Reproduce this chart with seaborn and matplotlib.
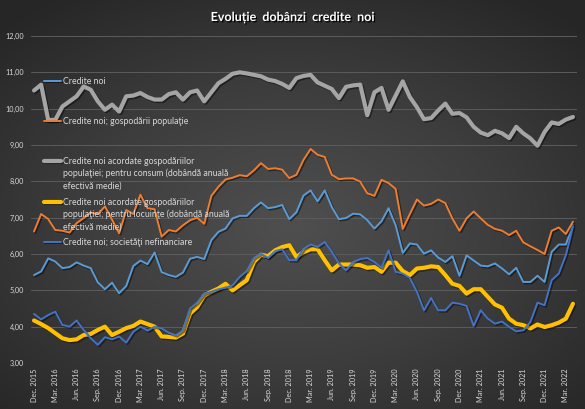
import numpy as np
import pandas as pd
import seaborn as sns
import matplotlib
matplotlib.use("Agg")
import matplotlib.pyplot as plt
import matplotlib.patheffects as pe
from matplotlib.colors import LinearSegmentedColormap

# ---- data (monthly, Dec. 2015 - Apr. 2022) ----
months = pd.date_range("2015-12-01", periods=77, freq="MS")

credite_noi = [
    5.42, 5.52, 5.88, 5.79, 5.61, 5.64, 5.77, 5.68, 5.61, 5.22, 5.03, 5.21, 4.92, 5.12, 5.67, 5.82, 5.72, 6.04,
    5.50, 5.42, 5.37, 5.49, 5.87, 5.92, 5.86, 6.38, 6.61, 6.70, 6.98, 7.05, 7.05, 7.26, 7.42, 7.26, 7.29, 7.35, 6.96,
    7.15, 7.61, 7.75, 7.45, 7.75, 7.29, 6.96, 6.99, 7.11, 7.09, 6.93, 6.70, 6.90, 7.26, 6.79, 6.03, 6.29, 6.26, 6.01, 6.10, 5.90,
    5.78, 5.94, 5.40, 5.96, 5.82, 5.68, 5.66, 5.74, 5.60, 5.44, 5.62, 5.23, 5.23, 5.40, 5.23, 6.06, 6.26, 6.26, 6.81,
]
gospodarii = [
    6.62, 7.10, 6.96, 6.66, 6.64, 6.59, 6.85, 6.99, 7.14, 7.10, 7.31, 6.95, 6.57, 7.21, 7.10, 7.63, 7.26, 7.23,
    6.48, 6.66, 6.62, 6.79, 6.93, 7.00, 6.83, 7.60, 7.85, 8.05, 8.10, 8.17, 8.14, 8.30, 8.50, 8.34, 8.36, 8.32, 8.09,
    8.18, 8.59, 8.89, 8.73, 8.67, 8.18, 8.06, 8.08, 8.08, 7.99, 7.67, 7.60, 8.04, 7.95, 7.79, 6.69, 7.10, 7.50, 7.33, 7.38, 7.50,
    7.40, 6.98, 6.64, 6.98, 7.17, 6.98, 6.80, 6.69, 6.64, 6.52, 6.64, 6.32, 6.21, 6.11, 6.00, 6.64, 6.73, 6.55, 6.89,
]
consum = [
    10.50, 10.66, 9.69, 9.69, 10.06, 10.20, 10.34, 10.61, 10.52, 10.20, 9.97, 10.11, 9.92, 10.34, 10.36, 10.43, 10.32, 10.25,
    10.25, 10.40, 10.45, 10.25, 10.45, 10.50, 10.20, 10.45, 10.70, 10.82, 10.96, 11.00, 10.97, 10.93, 10.89, 10.80, 10.76, 10.68, 10.57,
    10.84, 10.90, 10.93, 10.72, 10.63, 10.54, 10.29, 10.60, 10.64, 10.66, 9.82, 10.45, 10.57, 9.97, 10.36, 10.75, 10.32, 10.04, 9.71, 9.74, 9.95,
    10.14, 9.86, 9.88, 9.76, 9.50, 9.34, 9.27, 9.39, 9.32, 9.19, 9.50, 9.32, 9.18, 8.98, 9.36, 9.62, 9.58, 9.70, 9.77,
]
locuinte = [
    4.17, 4.07, 3.96, 3.82, 3.68, 3.63, 3.65, 3.77, 3.80, 3.91, 4.00, 3.77, 3.86, 3.96, 4.02, 4.14, 4.07, 4.00,
    3.73, 3.72, 3.70, 3.81, 4.36, 4.54, 4.86, 4.96, 5.05, 5.18, 5.00, 5.14, 5.28, 5.78, 5.98, 5.94, 6.10, 6.19, 6.24,
    5.92, 6.05, 6.13, 6.13, 5.83, 5.55, 5.71, 5.71, 5.71, 5.69, 5.62, 5.64, 5.51, 5.76, 5.76, 5.53, 5.42, 5.60, 5.62, 5.66, 5.64,
    5.42, 5.18, 5.12, 4.91, 5.03, 5.03, 4.82, 4.61, 4.52, 4.22, 4.08, 4.04, 3.95, 4.06, 3.99, 4.04, 4.11, 4.22, 4.63,
]
nefinanciare = [
    4.35, 4.20, 4.32, 4.41, 4.05, 4.00, 4.17, 3.91, 3.68, 3.50, 3.71, 3.65, 3.73, 3.56, 3.86, 4.00, 3.89, 4.00,
    3.95, 3.83, 3.76, 3.90, 4.50, 4.66, 4.91, 4.96, 5.03, 5.07, 5.14, 5.37, 5.53, 5.89, 6.01, 5.89, 6.08, 6.13, 5.83,
    5.83, 6.14, 6.26, 6.20, 6.33, 6.06, 5.74, 5.55, 5.78, 5.86, 5.89, 5.78, 5.62, 6.10, 5.51, 5.46, 5.34, 4.96, 4.45, 4.79, 4.45,
    4.45, 4.66, 4.63, 4.57, 4.02, 4.45, 4.22, 4.08, 4.14, 3.99, 3.87, 3.90, 4.13, 4.66, 4.59, 5.28, 5.46, 5.97, 6.75,
]

tick_labels = [
    "Dec. 2015", "Mar. 2016", "Jun. 2016", "Sep. 2016", "Dec. 2016", "Mar. 2017", "Jun. 2017",
    "Sep. 2017", "Dec. 2017", "Mar. 2018", "Jun. 2018", "Sep. 2018", "Dec. 2018", "Mar. 2019",
    "Jun. 2019", "Sep. 2019", "Dec. 2019", "Mar. 2020", "Jun. 2020", "Sep. 2020", "Dec. 2020",
    "Mar. 2021", "Jun. 2021", "Sep. 2021", "Dec. 2021", "Mar. 2022",
]

series_names = [
    "Credite noi",
    "Credite noi; gospodării populaţie",
    "Credite noi acordate gospodăriilor\npopulaţiei; pentru consum (dobândă anuală\nefectivă medie)",
    "Credite noi acordate gospodăriilor\npopulaţiei; pentru locuinţe (dobândă anuală\nefectivă medie)",
    "Credite noi; societăţi nefinanciare",
]
series_values = [credite_noi, gospodarii, consum, locuinte, nefinanciare]
series_colors = ["#5B9BD5", "#ED7D31", "#A5A5A5", "#FFC000", "#4472C4"]
series_widths = [1.4, 1.4, 3.0, 3.0, 1.4]

sns.set_style("dark")
plt.rcParams["font.family"] = ["Lato", "DejaVu Sans"]

W, H = 585, 409
fig = plt.figure(figsize=(W / 100, H / 100), dpi=100)

# radial dark gradient background
bg = fig.add_axes([0, 0, 1, 1])
yy, xx = np.mgrid[0:1:H * 1j, 0:1:W * 1j]
r = np.sqrt(((xx - 0.5) / 0.85) ** 2 + ((yy - 0.55) / 0.8) ** 2)
cmap = LinearSegmentedColormap.from_list("bg", ["#4f4f4f", "#3d3d3d", "#262626"])
bg.imshow(r, cmap=cmap, vmin=0, vmax=0.85, extent=[0, 1, 0, 1], aspect="auto")
bg.axis("off")

# plot area in pixels
left, right, top, bottom = 30.5, 576.5, 36, 363
ax = fig.add_axes([left / W, 1 - bottom / H, (right - left) / W, (bottom - top) / H])
ax.set_facecolor("none")

x = np.arange(len(months))
shadow = [pe.SimpleLineShadow(offset=(1, -1), shadow_color="black", alpha=0.45), pe.Normal()]
for vals, col, lw in zip(series_values, series_colors, series_widths):
    sns.lineplot(x=x, y=vals, ax=ax, color=col, linewidth=lw, legend=False,
                 path_effects=shadow, solid_joinstyle="round")

ax.set_xlim(-0.5, len(months) - 0.5)
ax.set_ylim(3, 12)
ax.set_yticks(np.arange(3, 13))
ax.set_yticklabels([f"{v:.2f}".replace(".", ",") for v in np.arange(3, 13)])
ax.set_xticks(np.arange(0, len(months), 3))
ax.set_xticklabels(tick_labels, rotation=90)
ax.tick_params(axis="y", length=0, pad=4.5, labelsize=5.2, labelcolor="#d9d9d9")
ax.tick_params(axis="x", length=0, pad=4, labelsize=5.2, labelcolor="#d9d9d9")
ax.set_xlabel("")
ax.set_ylabel("")
ax.yaxis.grid(True, color="#5c5c5c", linewidth=0.7)
ax.xaxis.grid(False)
for s in ax.spines.values():
    s.set_visible(False)


# legend drawn inside the plot area, handle on the first text line
def px_to_ax(px, py):
    return (px - left) / (right - left), (bottom - py) / (bottom - top)


legend_y = [81, 121, 161, 202, 242]
line_gap = 12.4
for name, col, lw, py in zip(series_names, series_colors, series_widths, legend_y):
    x0, y0 = px_to_ax(44, py)
    x1, _ = px_to_ax(61, py)
    ax.plot([x0, x1], [y0, y0], color=col, linewidth=lw, transform=ax.transAxes,
            clip_on=False, path_effects=shadow)
    for k, txt in enumerate(name.split("\n")):
        tx, ty = px_to_ax(63, py + k * line_gap)
        ax.text(tx, ty, txt, transform=ax.transAxes, fontsize=6.3, color="#d9d9d9",
                ha="left", va="center")

fig.text(0.5, 1 - 17 / H, "Evoluție  dobânzi  credite  noi", ha="center", va="center",
         fontsize=9, fontweight="bold", color="white",
         path_effects=[pe.withSimplePatchShadow(offset=(1, -1), shadow_rgbFace="black", alpha=0.9)])

fig.savefig("out.png", dpi=100)
